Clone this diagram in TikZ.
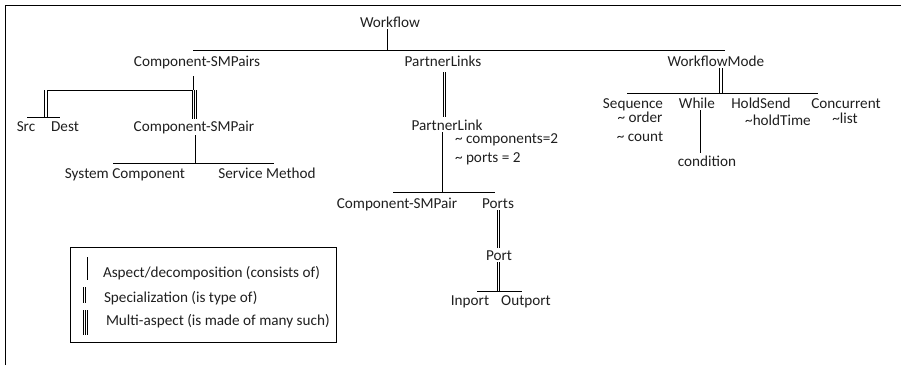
\documentclass[tikz,border=0pt]{standalone}
\usepackage{fontspec}
\setmainfont{Carlito}
\newcommand{\lblfont}{\fontsize{15.2}{18}\selectfont}
\begin{document}
\begin{tikzpicture}[x=1pt,y=-1pt,
  lbl/.style={anchor=base, inner sep=2pt, outer sep=0pt, font=\lblfont, text=black!88},
  lblw/.style={lbl, anchor=base west},
  aspect/.style={draw=black, line width=0.9pt},
  bar/.style={draw=black, line width=0.9pt},
  spec/.style={draw=black, line width=0.8pt, double=white, double distance=1.6pt},
  multi/.style={draw=black, line width=5pt,
    postaction={draw=white, line width=3.2pt},
    postaction={draw=black, line width=0.8pt}},
]
\useasboundingbox (0,0) rectangle (901,365);

% frame edges
\draw[line width=1pt] (5,365) -- (5,5) -- (901,5);

% ---- top level ----
\node[lbl] (wf) at (390,27) {Workflow};
\coordinate (wfj) at (387,50);
\coordinate (wfL) at (193,50);
\coordinate (wfR) at (725,50);
\draw[aspect] (wfj |- wf.south) -- (wfj);
\draw[bar] (wfL) -- (wfR);

\node[lbl] (csps) at (197,66) {Component-SMPairs};
\node[lbl] (pls) at (443,66) {PartnerLinks};
\node[lbl] (wm) at (716,66) {WorkflowMode};

% ---- Component-SMPairs branch ----
\coordinate (b1L) at (44,90);
\coordinate (b1R) at (197,90);
\coordinate (b1j) at (193,90);
\draw[aspect, shorten <=6pt] (b1j |- csps.south) -- (b1j);
\draw[bar] (b1L) -- (b1R);

\node[lbl] (src) at (26,131) {Src};
\node[lbl] (dest) at (65,131) {Dest};
\coordinate (b2L) at (27,117);
\coordinate (b2R) at (60,117);
\coordinate (b2j) at (46,117);
\draw[spec] (b2j |- b1L) -- (b2j);
\draw[bar] (b2L) -- (b2R);

\node[lbl] (csp) at (194,131) {Component-SMPair};
\coordinate (cspx) at (194.5,90);
\draw[multi] (cspx) -- (cspx |- csp.north);

\coordinate (b3L) at (113,163);
\coordinate (b3R) at (274,163);
\coordinate (b3j) at (195,163);
\draw[aspect] (b3j |- csp.south) -- (b3j);
\draw[bar] (b3L) -- (b3R);
\node[lbl] (sysc) at (125,178) {System Component};
\node[lbl] (svcm) at (267,178) {Service Method};

% ---- PartnerLinks branch ----
\node[lbl] (pl) at (447,130) {PartnerLink};
\coordinate (plx) at (443,66);
\draw[multi, shorten <=4pt] (plx |- pls.south) -- (plx |- pl.north);
\node[lblw] (pla) at (453,143) {\textasciitilde\ components=2};
\node[lblw] (plb) at (453,162) {\textasciitilde\ ports = 2};

\coordinate (b4L) at (393,192);
\coordinate (b4R) at (495,192);
\coordinate (b4j) at (442,192);
\draw[aspect] (b4j |- pl.south) -- (b4j);
\draw[bar] (b4L) -- (b4R);
\node[lbl] (csp2) at (397,208) {Component-SMPair};
\node[lbl] (ports) at (498,208) {Ports};

\node[lbl] (port) at (499,260) {Port};
\coordinate (ptx) at (497,208);
\draw[multi] (ptx |- ports.south) -- (ptx |- port.north);

\coordinate (b5L) at (477,291);
\coordinate (b5R) at (522,291);
\coordinate (b5j) at (498.5,291);
\draw[spec] (b5j |- port.south) -- (b5j);
\draw[bar] (b5L) -- (b5R);
\node[lbl] (inp) at (470,305) {Inport};
\node[lbl] (outp) at (526,305) {Outport};

% ---- WorkflowMode branch ----
\coordinate (b6L) at (627,93);
\coordinate (b6R) at (818,93);
\coordinate (b6j) at (721,93);
\draw[spec] (b6j |- wm.south) -- (b6j);
\draw[bar] (b6L) -- (b6R);

\node[lbl] (seq) at (633,108) {Sequence};
\node[lbl] (whl) at (697,108) {While};
\node[lbl] (hs) at (761,108) {HoldSend};
\node[lbl] (conc) at (846,108) {Concurrent};
\node[lbl] (ord) at (640,122) {\textasciitilde\ order};
\node[lbl] (cnt) at (640,141) {\textasciitilde\ count};
\node[lbl] (hold) at (778,125) {\textasciitilde holdTime};
\node[lbl, inner sep=1pt] (lst) at (845,123) {\textasciitilde list};
\node[lbl] (cond) at (707,166) {condition};
\coordinate (whx) at (700,108);
\draw[aspect] (whx |- whl.south) -- (whx |- cond.north);

% ---- legend ----
\draw[line width=0.9pt] (70,247) rectangle (336,342);
\coordinate (l1a) at (87,257);  \coordinate (l1b) at (87,280);
\coordinate (l2a) at (84.5,287); \coordinate (l2b) at (84.5,303);
\coordinate (l3a) at (85.5,310); \coordinate (l3b) at (85.5,335);
\draw[aspect] (l1a) -- (l1b);
\draw[spec] (l2a) -- (l2b);
\draw[multi] (l3a) -- (l3b);
\node[lblw] (lg1) at (101,277) {Aspect/decomposition (consists of)};
\node[lblw] (lg2) at (102,302) {Specialization (is type of)};
\node[lblw] (lg3) at (104,325) {Multi-aspect (is made of many such)};
\end{tikzpicture}
\end{document}
